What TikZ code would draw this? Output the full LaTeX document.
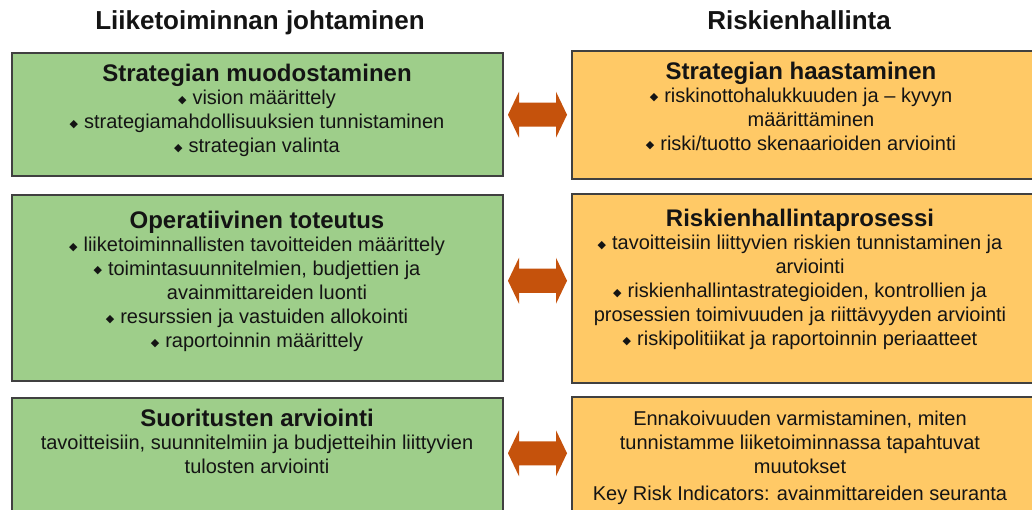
\documentclass[tikz,border=0pt]{standalone}
\usepackage{fontspec}
\setmainfont{Liberation Sans}
\newfontfamily\dejavu{DejaVu Sans}
\usetikzlibrary{calc}

\definecolor{boxgreen}{RGB}{158,206,138}
\definecolor{boxorange}{RGB}{255,201,102}
\definecolor{arrowred}{RGB}{197,82,12}
\definecolor{edgegray}{RGB}{64,64,64}
\definecolor{inktext}{RGB}{20,20,20}

% small diamond bullet in front of list lines
\newcommand\bul{\raisebox{1.2pt}{\dejavu\fontsize{11}{11}\selectfont ◆}\hspace{6pt}}
% continuation line of a bulleted item, set slightly to the right
\newcommand\cont{\hspace*{20pt}}
% bold heading line inside a box, with a fixed 18pt height above its baseline
\newcommand\boxhead[1]{{\rule{0pt}{18pt}\fontsize{24}{24}\selectfont\bfseries #1}}
% fixed 15pt height for a plain first line
\newcommand\firstline{\rule{0pt}{15pt}}

\tikzset{
  panel/.style={draw=edgegray, line width=1.6pt, inner sep=0pt},
  greenpanel/.style={panel, fill=boxgreen},
  orangepanel/.style={panel, fill=boxorange},
  coltitle/.style={anchor=base, inner sep=0pt, text=inktext,
    font=\fontsize{26}{30}\selectfont\bfseries},
  boxtext/.style={anchor=north, inner sep=0pt, align=center, text=inktext,
    font=\fontsize{20}{24}\selectfont},
  linkarrow/.style={fill=arrowred},
}

% two-headed block arrow centred on a coordinate
\newcommand\blockarrow[1]{%
  \fill[linkarrow] ($(#1)+(-29.5,0)$) -- ++(11,-23) -- ++(0,11) -- ++(37,0)
    -- ++(0,-11) -- ++(11,23) -- ++(-11,23) -- ++(0,-11) -- ++(-37,0)
    -- ++(0,11) -- cycle;}

\begin{document}
\begin{tikzpicture}[x=1pt,y=-1pt]
\useasboundingbox (0,0) rectangle (1032,510);
\clip (0,0) rectangle (1032,510);
\fill[white] (0,0) rectangle (1032,510);

% column titles
\node[coltitle] (tleft) at (260,30) {Liiketoiminnan johtaminen};
\node[coltitle] (tright) at (799,30) {Riskienhallinta};

% business management column
\node[greenpanel, minimum width=491pt, minimum height=123pt] (L1) at (257.5,114.5) {};
\node[greenpanel, minimum width=491pt, minimum height=186pt] (L2) at (257.5,288) {};
\node[greenpanel, minimum width=491pt, minimum height=132pt] (L3) at (257.5,464) {};

% risk management column
\node[orangepanel, minimum width=468pt, minimum height=128pt] (R1) at (806,115) {};
\node[orangepanel, minimum width=468pt, minimum height=189pt] (R2) at (806,288.5) {};
\node[orangepanel, minimum width=468pt, minimum height=133pt] (R3) at (806,463.5) {};

% box contents (node tops sit 18pt / 15pt above the first baseline)
\node[boxtext] (L1t) at (257,63.5) {\boxhead{Strategian muodostaminen}\\[-1pt]
  \bul vision määrittely\\
  \bul strategiamahdollisuuksien tunnistaminen\\
  \bul strategian valinta};

\node[boxtext] (L2t) at (257,210) {\boxhead{Operatiivinen toteutus}\\[-1pt]
  \bul liiketoiminnallisten tavoitteiden määrittely\\
  \bul toimintasuunnitelmien, budjettien ja\\
  \cont avainmittareiden luonti\\
  \bul resurssien ja vastuiden allokointi\\
  \bul raportoinnin määrittely};

\node[boxtext] (L3t) at (257,408.5) {\boxhead{Suoritusten arviointi}\\[-1pt]
  tavoitteisiin, suunnitelmiin ja budjetteihin liittyvien\\
  tulosten arviointi};

\node[boxtext] (R1t) at (801,61) {\boxhead{Strategian haastaminen}\\[-1pt]
  \bul riskinottohalukkuuden ja – kyvyn\\
  \cont määrittäminen\\
  \bul riski/tuotto skenaarioiden arviointi};

\node[boxtext] (R2t) at (800,208) {\boxhead{Riskienhallintaprosessi}\\[-1pt]
  \bul tavoitteisiin liittyvien riskien tunnistaminen ja\\
  \cont arviointi\\
  \bul riskienhallintastrategioiden, kontrollien ja\\
  prosessien toimivuuden ja riittävyyden arviointi\\
  \bul riskipolitiikat ja raportoinnin periaatteet};

\node[boxtext] (R3t) at (800,410) {\firstline Ennakoivuuden varmistaminen, miten\\
  tunnistamme liiketoiminnassa tapahtuvat\\
  muutokset\\[3pt]
  Key Risk Indicators: avainmittareiden seuranta};

% links between the columns
\coordinate (a1) at ($(L1.east)!0.5!(R1.west)$);
\coordinate (a2) at ($(L2.east)!0.5!(R2.west)+(0,-7.5)$);
\coordinate (a3) at ($(L3.east)!0.5!(R3.west)+(0,-10.5)$);
\blockarrow{a1}
\blockarrow{a2}
\blockarrow{a3}
\end{tikzpicture}
\end{document}
